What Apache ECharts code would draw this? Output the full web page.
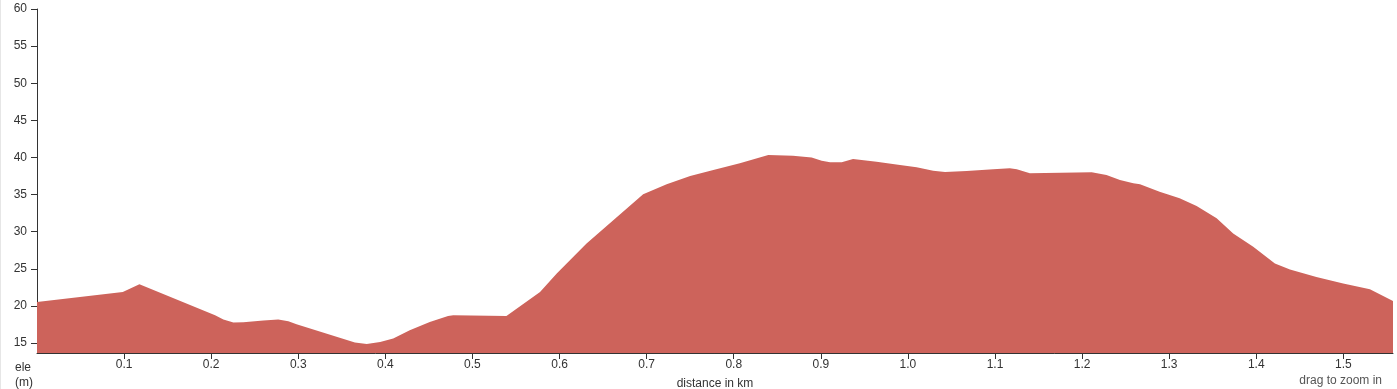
<!DOCTYPE html>
<html>
<head>
<meta charset="utf-8">
<script src="https://cdn.jsdelivr.net/npm/echarts@6/dist/echarts.min.js"></script>
<style>
html,body{margin:0;padding:0;background:#fff;}
#chart{width:1397px;height:389px;}
</style>
</head>
<body>
<div id="chart"></div>
<script>
const distanceKm = [0, 0.0985, 0.1176, 0.2045, 0.214, 0.2255, 0.237, 0.26, 0.277, 0.2886, 0.298, 0.365, 0.3786, 0.394, 0.409, 0.428, 0.451, 0.472, 0.478, 0.539, 0.5776, 0.5968, 0.631, 0.696, 0.723, 0.75, 0.7766, 0.807, 0.8397, 0.868, 0.8895, 0.901, 0.9106, 0.924, 0.937, 0.964, 0.9909, 1.01, 1.029, 1.0426, 1.0675, 1.098, 1.117, 1.125, 1.14, 1.211, 1.228, 1.2435, 1.2588, 1.2665, 1.289, 1.312, 1.3315, 1.3545, 1.3735, 1.3965, 1.4214, 1.4387, 1.469, 1.4998, 1.5305, 1.557];
const elevationM = [20.53, 21.88, 22.92, 18.74, 18.16, 17.75, 17.8, 18.02, 18.16, 17.93, 17.52, 15.05, 14.87, 15.14, 15.6, 16.7, 17.83, 18.64, 18.74, 18.64, 21.88, 24.37, 28.41, 35.03, 36.38, 37.5, 38.3, 39.2, 40.33, 40.24, 40.0, 39.56, 39.35, 39.35, 39.79, 39.43, 38.98, 38.67, 38.21, 38.04, 38.17, 38.4, 38.53, 38.4, 37.86, 38.0, 37.63, 36.96, 36.51, 36.38, 35.38, 34.49, 33.45, 31.79, 29.76, 27.96, 25.71, 24.9, 23.9, 23.0, 22.25, 20.67];
const xTicks = [0.1, 0.2, 0.3, 0.4, 0.5, 0.6, 0.7, 0.8, 0.9, 1.0, 1.1, 1.2, 1.3, 1.4, 1.5];
const yTicks = [15, 20, 25, 30, 35, 40, 45, 50, 55, 60];

const chart = echarts.init(document.getElementById('chart'), null, {renderer: 'canvas'});
const font = '"Liberation Sans", Arial, sans-serif';
chart.setOption({
  animation: false,
  grid: {left: 37, right: 4, top: 9, bottom: 36, containLabel: false, outerBoundsMode: 'none'},
  xAxis: {
    type: 'value', min: 0, max: 1.557,
    name: 'distance in km', nameLocation: 'middle', nameGap: 25,
    nameTextStyle: {fontFamily: font, fontSize: 12, color: '#333'},
    splitLine: {show: false},
    axisLine: {show: true, lineStyle: {color: '#333', width: 1}},
    axisTick: {show: true, length: 6, customValues: xTicks, lineStyle: {color: '#333'}},
    axisLabel: {customValues: xTicks, margin: 6, fontFamily: font, fontSize: 12, color: '#333',
      formatter: v => v.toFixed(1)}
  },
  yAxis: {
    type: 'value', min: 13.65, max: 60,
    splitLine: {show: false},
    axisLine: {show: true, lineStyle: {color: '#333', width: 1}},
    axisTick: {show: true, length: 6, customValues: yTicks, lineStyle: {color: '#333'}},
    axisLabel: {customValues: yTicks, margin: 10, fontFamily: font, fontSize: 12, color: '#333'}
  },
  graphic: [
    {type: 'line', shape: {x1: 0.5, y1: 0, x2: 0.5, y2: 389}, style: {stroke: '#e6e6e6', lineWidth: 1}},
    {type: 'text', left: 15, top: 360, style: {text: 'ele\n(m)', font: '12px ' + font, fill: '#333', lineHeight: 15}},
    {type: 'text', right: 15, top: 375, style: {text: 'drag to zoom in', font: '12px ' + font, fill: '#555'}}
  ],
  series: [{
    type: 'line',
    data: distanceKm.map((d, i) => [d, elevationM[i]]),
    showSymbol: false,
    symbol: 'none',
    lineStyle: {width: 0, color: '#cd635b'},
    areaStyle: {color: '#cd635b', opacity: 1},
    z: 1
  }]
});
</script>
</body>
</html>
